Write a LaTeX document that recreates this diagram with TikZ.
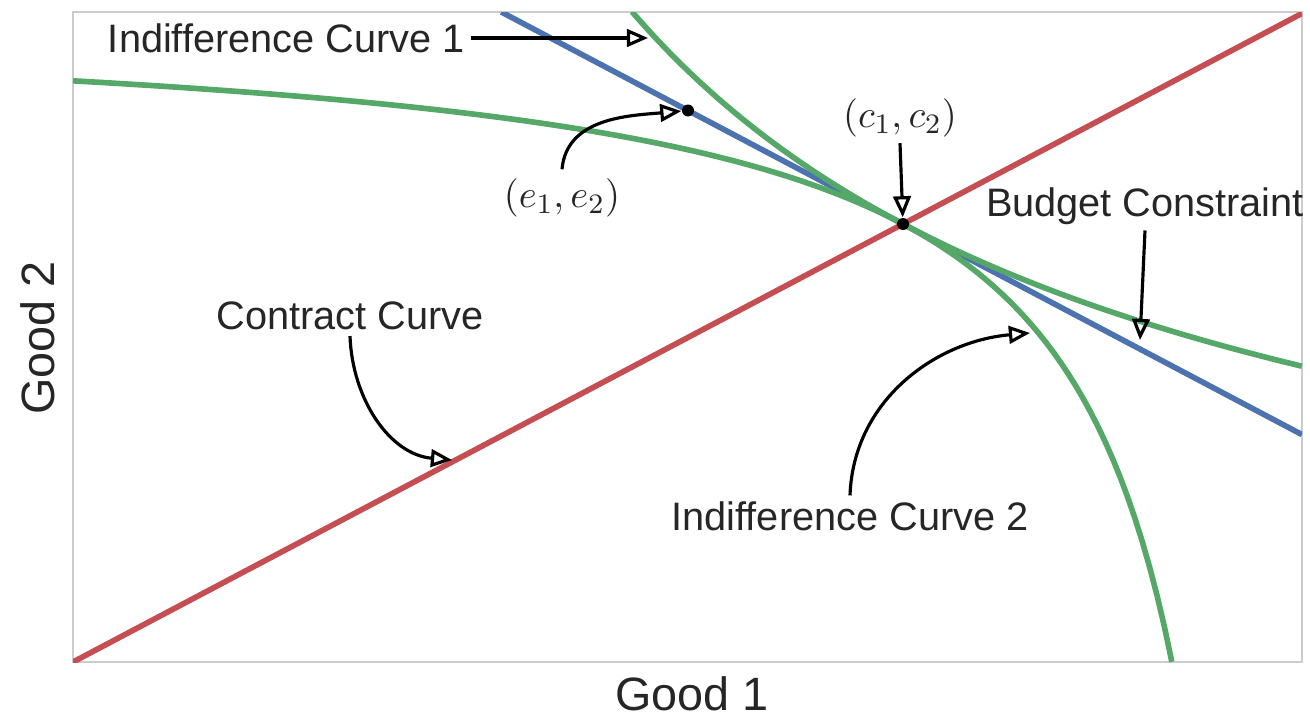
\documentclass[tikz,border=0pt]{standalone}
\usepackage{fontspec}
\setmainfont{Liberation Sans}
\usetikzlibrary{arrows.meta,positioning}
\definecolor{snsblue}{HTML}{4C72B0}
\definecolor{snsgreen}{HTML}{55A868}
\definecolor{snsred}{HTML}{C44E52}
\definecolor{txtgray}{HTML}{262626}
\begin{document}
\begin{tikzpicture}[>={Triangle[open,length=6pt,width=5pt]},
  every node/.style={text=txtgray, inner sep=1.5pt},
  curve/.style={line width=1.6pt},
  callout/.style={->, line width=0.9pt, black},
  lbl/.style={font=\fontsize{11.3}{13}\selectfont},
  mathlbl/.style={font=\fontsize{11}{13}\selectfont},
  axlbl/.style={font=\fontsize{13.3}{16}\selectfont},
  dot/.style={circle, fill=black, inner sep=0pt, minimum size=0.12cm}]
  \useasboundingbox (-0.73,-0.56) rectangle (12.37,6.62);
  \draw[gray!40, line width=0.6pt] (0,0) rectangle (12.29,6.5);
  % curves of the box
  \begin{scope}
    \clip (0,0) rectangle (12.29,6.5);
    \draw[curve, snsblue] (4.283,6.5) -- (12.29,2.274);
    \draw[curve, snsgreen, domain=5.59:12.29, samples=120] plot (\x, {36.354/\x});
    \draw[curve, snsgreen, domain=0:10.99, samples=150] plot (\x, {6.5-8.4588/(12.29-\x)});
    \draw[curve, snsred] (0,0) -- (12.29,6.486);
  \end{scope}
  \node[dot] (endow) at (6.15,5.515) {};
  \node[dot] (contract) at (8.30,4.38) {};
  % labels
  \node[lbl, anchor=west] (ic1label) at (0.29,6.24) {Indifference Curve 1};
  \node[lbl] (ic2label) at (7.77,1.46) {Indifference Curve 2};
  \node[lbl] (budgetlabel) at (10.72,4.56) {Budget Constraint};
  \node[lbl] (contractlabel) at (2.77,3.46) {Contract Curve};
  \node[mathlbl] (elabel) at (4.89,4.64) {$(e_1,e_2)$};
  \node[mathlbl] (clabel) at (8.27,5.44) {$(c_1,c_2)$};
  \node[axlbl] (xlabel) at (6.19,-0.32) {Good 1};
  \node[axlbl, rotate=90] (ylabel) at (-0.35,3.24) {Good 2};
  \coordinate (ic1tip) at (5.75,6.24);
  \coordinate (ic2tip) at (9.57,3.29);
  \coordinate (budgettip) at (10.67,3.22);
  \coordinate (contracttip) at (3.79,2.02);
  % callouts
  \draw[callout] (ic1label.east) -- (ic1tip);
  \draw[callout] ([yshift=1pt]elabel.north) to[out=85,in=185] (endow);
  \draw[callout] (clabel.south) -- (contract);
  \draw[callout] (budgetlabel.south) -- (budgettip);
  \draw[callout] (contractlabel.south) to[out=-88,in=175] (contracttip);
  \draw[callout] (ic2label.north) to[out=88,in=185] (ic2tip);
\end{tikzpicture}
\end{document}
